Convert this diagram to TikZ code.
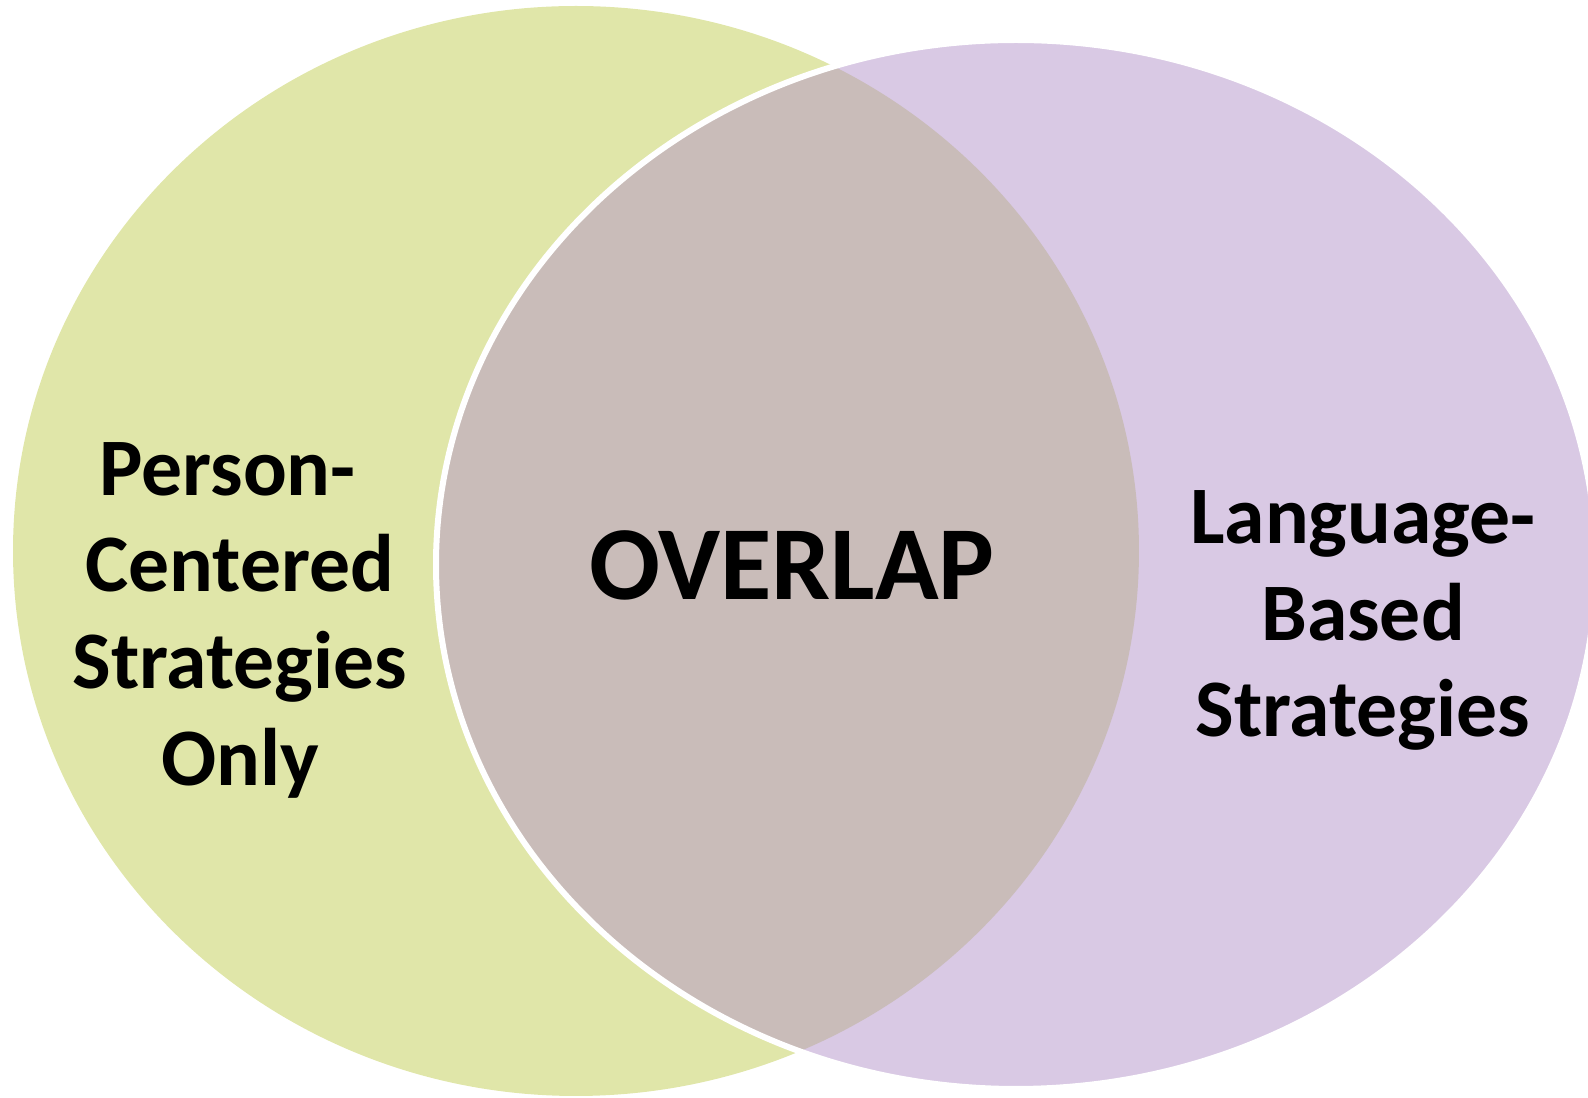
\documentclass[tikz,border=0pt]{standalone}
\usepackage{fontspec}
\setmainfont{Carlito}
\definecolor{personfill}{RGB}{224,230,169}
\definecolor{languagefill}{RGB}{217,201,228}
\definecolor{overlapfill}{RGB}{201,188,185}
\begin{document}
\begin{tikzpicture}[x=0.3pt,y=-0.3pt,
  sidelabel/.style={align=center,font=\fontsize{24.5}{29}\selectfont\bfseries,inner sep=0pt},
  mainlabel/.style={font=\fontsize{31.5}{38}\selectfont\bfseries,inner sep=0pt}]
  \useasboundingbox (0,0) rectangle (1588,1098);
  \clip (0,0) rectangle (1588,1098);
  % the two sets
  \fill[personfill] (576,551) ellipse [x radius=168.9pt, y radius=163.5pt];
  \fill[languagefill] (1016,564.5) ellipse [x radius=174pt, y radius=157.35pt];
  % their intersection
  \begin{scope}
    \clip (576,551) ellipse [x radius=168.9pt, y radius=163.5pt];
    \fill[overlapfill] (1016,564.5) ellipse [x radius=174pt, y radius=157.35pt];
  \end{scope}
  % white rim of the right set
  \draw[white,line width=1.8pt] (1016,564.5) ellipse [x radius=174pt, y radius=157.35pt];
  % labels
  \node[sidelabel] (person) at (240,620) {Person-\hspace*{7.5pt}\\Centered\\Strategies\\Only};
  \node[mainlabel,anchor=base] (overlap) at (792,600) {OVERLAP};
  \node[sidelabel] (language) at (1363,620.5) {Language-\\Based\\Strategies};
\end{tikzpicture}
\end{document}
